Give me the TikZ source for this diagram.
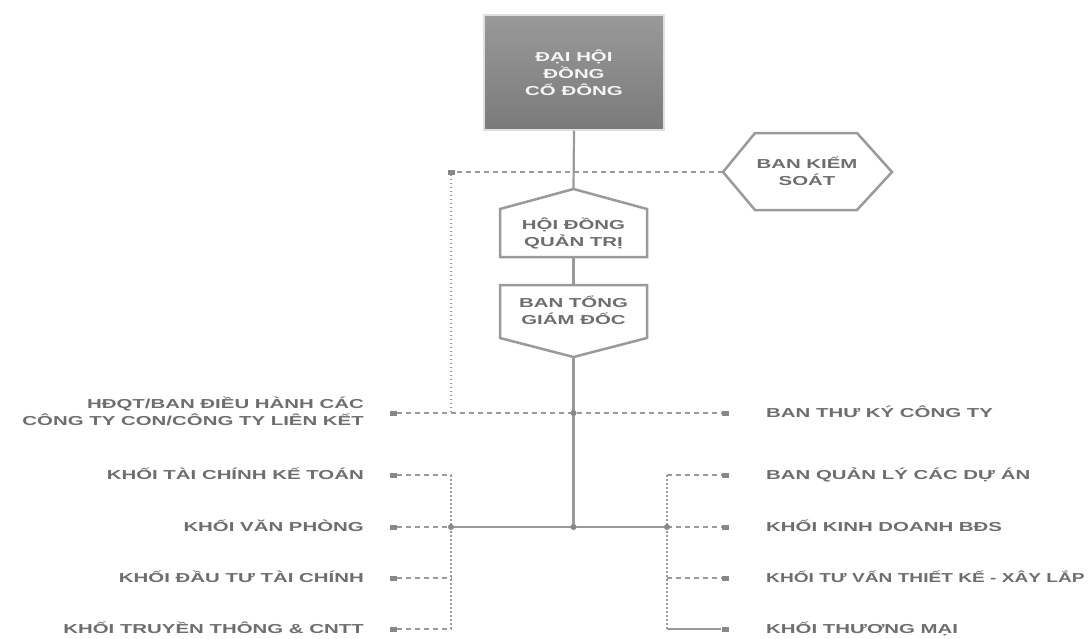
\documentclass[tikz,border=0pt]{standalone}
\usepackage{fontspec}
\newfontfamily\wide{Liberation Sans}[FakeStretch=1.57]
\newfontfamily\widen{Liberation Sans}[FakeStretch=1.47]
\definecolor{txt}{HTML}{6E6E6E}
\definecolor{ln}{HTML}{9A9A9A}
\definecolor{sqc}{HTML}{888888}
\tikzset{
  lab/.style={font=\wide\bfseries\fontsize{13}{17}\selectfont, text=txt, inner sep=0pt},
  labn/.style={font=\widen\bfseries\fontsize{13}{17}\selectfont, text=txt, inner sep=0pt},
  solidln/.style={draw=ln, line width=2.2pt},
  dashln/.style={draw=ln, line width=1.3pt, dash pattern=on 5pt off 4pt},
  dotln/.style={draw=ln, line width=1.2pt, dash pattern=on 1.5pt off 2.5pt},
  sqr/.style={fill=sqc, minimum width=7pt, minimum height=5pt, inner sep=0pt},
  jdot/.style={circle, fill=sqc, minimum size=6pt, inner sep=0pt},
  shapeln/.style={draw=ln, line width=2.5pt, fill=white, line join=miter},
  boxtext/.style={lab, align=center}
}
\begin{document}
\begin{tikzpicture}[x=1pt,y=-1pt]
\fill[white] (0,0) rectangle (1092,638);
\useasboundingbox (0,0) rectangle (1092,638);

% top box
\node[draw=white!75!gray, line width=1.5pt, top color=black!40, bottom color=black!52,
      minimum width=180pt, minimum height=115pt, inner sep=0pt] (dhd) at (574,72.5) {};
\node[boxtext, text=white!92!gray] (dhdt) at (574,73) {ĐẠI HỘI\\ĐỒNG\\CỔ ĐÔNG};

% Ban kiem soat hexagon
\coordinate (bksL) at (723,172);
\draw[shapeln] (bksL) -- (755,133) -- (857,133) -- (892,172) -- (857,210) -- (755,210) -- cycle;
\node[boxtext] (bks) at (807,171) {BAN KIỂM\\SOÁT};

% HDQT pentagon (pointed top)
\coordinate (hdqtTop) at (573.5,189);
\coordinate (hdqtBot) at (573.5,257);
\draw[shapeln] (hdqtTop) -- (647,209) -- (647,257) -- (500,257) -- (500,209) -- cycle;
\node[boxtext] (hdqt) at (573.5,233) {HỘI ĐỒNG\\QUẢN TRỊ};

% Ban TGD pentagon (pointed bottom)
\coordinate (tgdTop) at (573.5,285);
\coordinate (tgdBot) at (573.5,357);
\draw[shapeln] (500,285) -- (647,285) -- (647,338) -- (tgdBot) -- (500,338) -- cycle;
\node[boxtext] (tgd) at (573.5,310) {BAN TỔNG\\GIÁM ĐỐC};

% junctions
\coordinate (jc1) at (573.5,413);
\coordinate (jc2) at (573.5,527);
\coordinate (jl) at (451,527);
\coordinate (jr) at (667,527);
\coordinate (lTop) at (451,475);
\coordinate (lBot) at (451,629);
\coordinate (rTop) at (667,475);
\coordinate (rBot) at (667,629);
\coordinate (lMid) at (451,413);

% squares
\node[sqr] (sqK) at (451,172) {};
\node[sqr] (sqL1) at (393,413) {};
\node[sqr] (sqL2) at (393,475) {};
\node[sqr] (sqL3) at (393,527) {};
\node[sqr] (sqL4) at (393,578) {};
\node[sqr] (sqL5) at (393,629) {};
\node[sqr] (sqR1) at (725,413) {};
\node[sqr] (sqR2) at (725,475) {};
\node[sqr] (sqR3) at (725,527) {};
\node[sqr] (sqR4) at (725,578) {};
\node[sqr] (sqR5) at (725,629) {};

% solid connectors
\draw[solidln] (dhd.south) -- (hdqtTop);
\draw[solidln] (hdqtBot) -- (tgdTop);
\draw[solidln] (tgdBot) -- (jc2);
\draw[solidln] (jl) -- (jr);

% dashed / dotted
\draw[dashln] (bksL) -- (sqK);
\draw[dotln] (sqK) -- (lMid);
\draw[dashln] (sqL1) -- (sqR1);
\draw[dotln] (lTop) -- (lBot);
\draw[dotln] (rTop) -- (rBot);
\draw[dashln] (sqL2) -- (lTop);
\draw[dashln] (sqL3) -- (jl);
\draw[dashln] (sqL4) -- (451,578);
\draw[dashln] (sqL5) -- (lBot);
\draw[dashln] (rTop) -- (sqR2);
\draw[dashln] (jr) -- (sqR3);
\draw[dashln] (667,578) -- (sqR4);
\draw[draw=ln, line width=1.3pt] (rBot) -- (sqR5);

% junction dots
\node[jdot] (d1) at (jc1) {};
\node[jdot] (d2) at (jc2) {};
\node[jdot] (d3) at (jl) {};
\node[jdot] (d4) at (jr) {};

% left labels
\node[lab, align=right, anchor=base east] (L1) at (364,425.7) {HĐQT/BAN ĐIỀU HÀNH CÁC\\CÔNG TY CON/CÔNG TY LIÊN KẾT};
\node[lab, anchor=base east] (L2) at (364,479.7) {KHỐI TÀI CHÍNH KẾ TOÁN};
\node[lab, anchor=base east] (L3) at (364,531.7) {KHỐI VĂN PHÒNG};
\node[lab, anchor=base east] (L4) at (364,582.7) {KHỐI ĐẦU TƯ TÀI CHÍNH};
\node[lab, anchor=base east] (L5) at (364,633.7) {KHỐI TRUYỀN THÔNG \& CNTT};

% right labels
\node[lab, anchor=base west] (R1) at (766,417.7) {BAN THƯ KÝ CÔNG TY};
\node[lab, anchor=base west] (R2) at (766,479.7) {BAN QUẢN LÝ CÁC DỰ ÁN};
\node[lab, anchor=base west] (R3) at (766,531.7) {KHỐI KINH DOANH BĐS};
\node[labn, anchor=base west] (R4) at (766,582.7) {KHỐI TƯ VẤN THIẾT KẾ - XÂY LẮP};
\node[lab, anchor=base west] (R5) at (766,633.7) {KHỐI THƯƠNG MẠI};
\end{tikzpicture}
\end{document}
